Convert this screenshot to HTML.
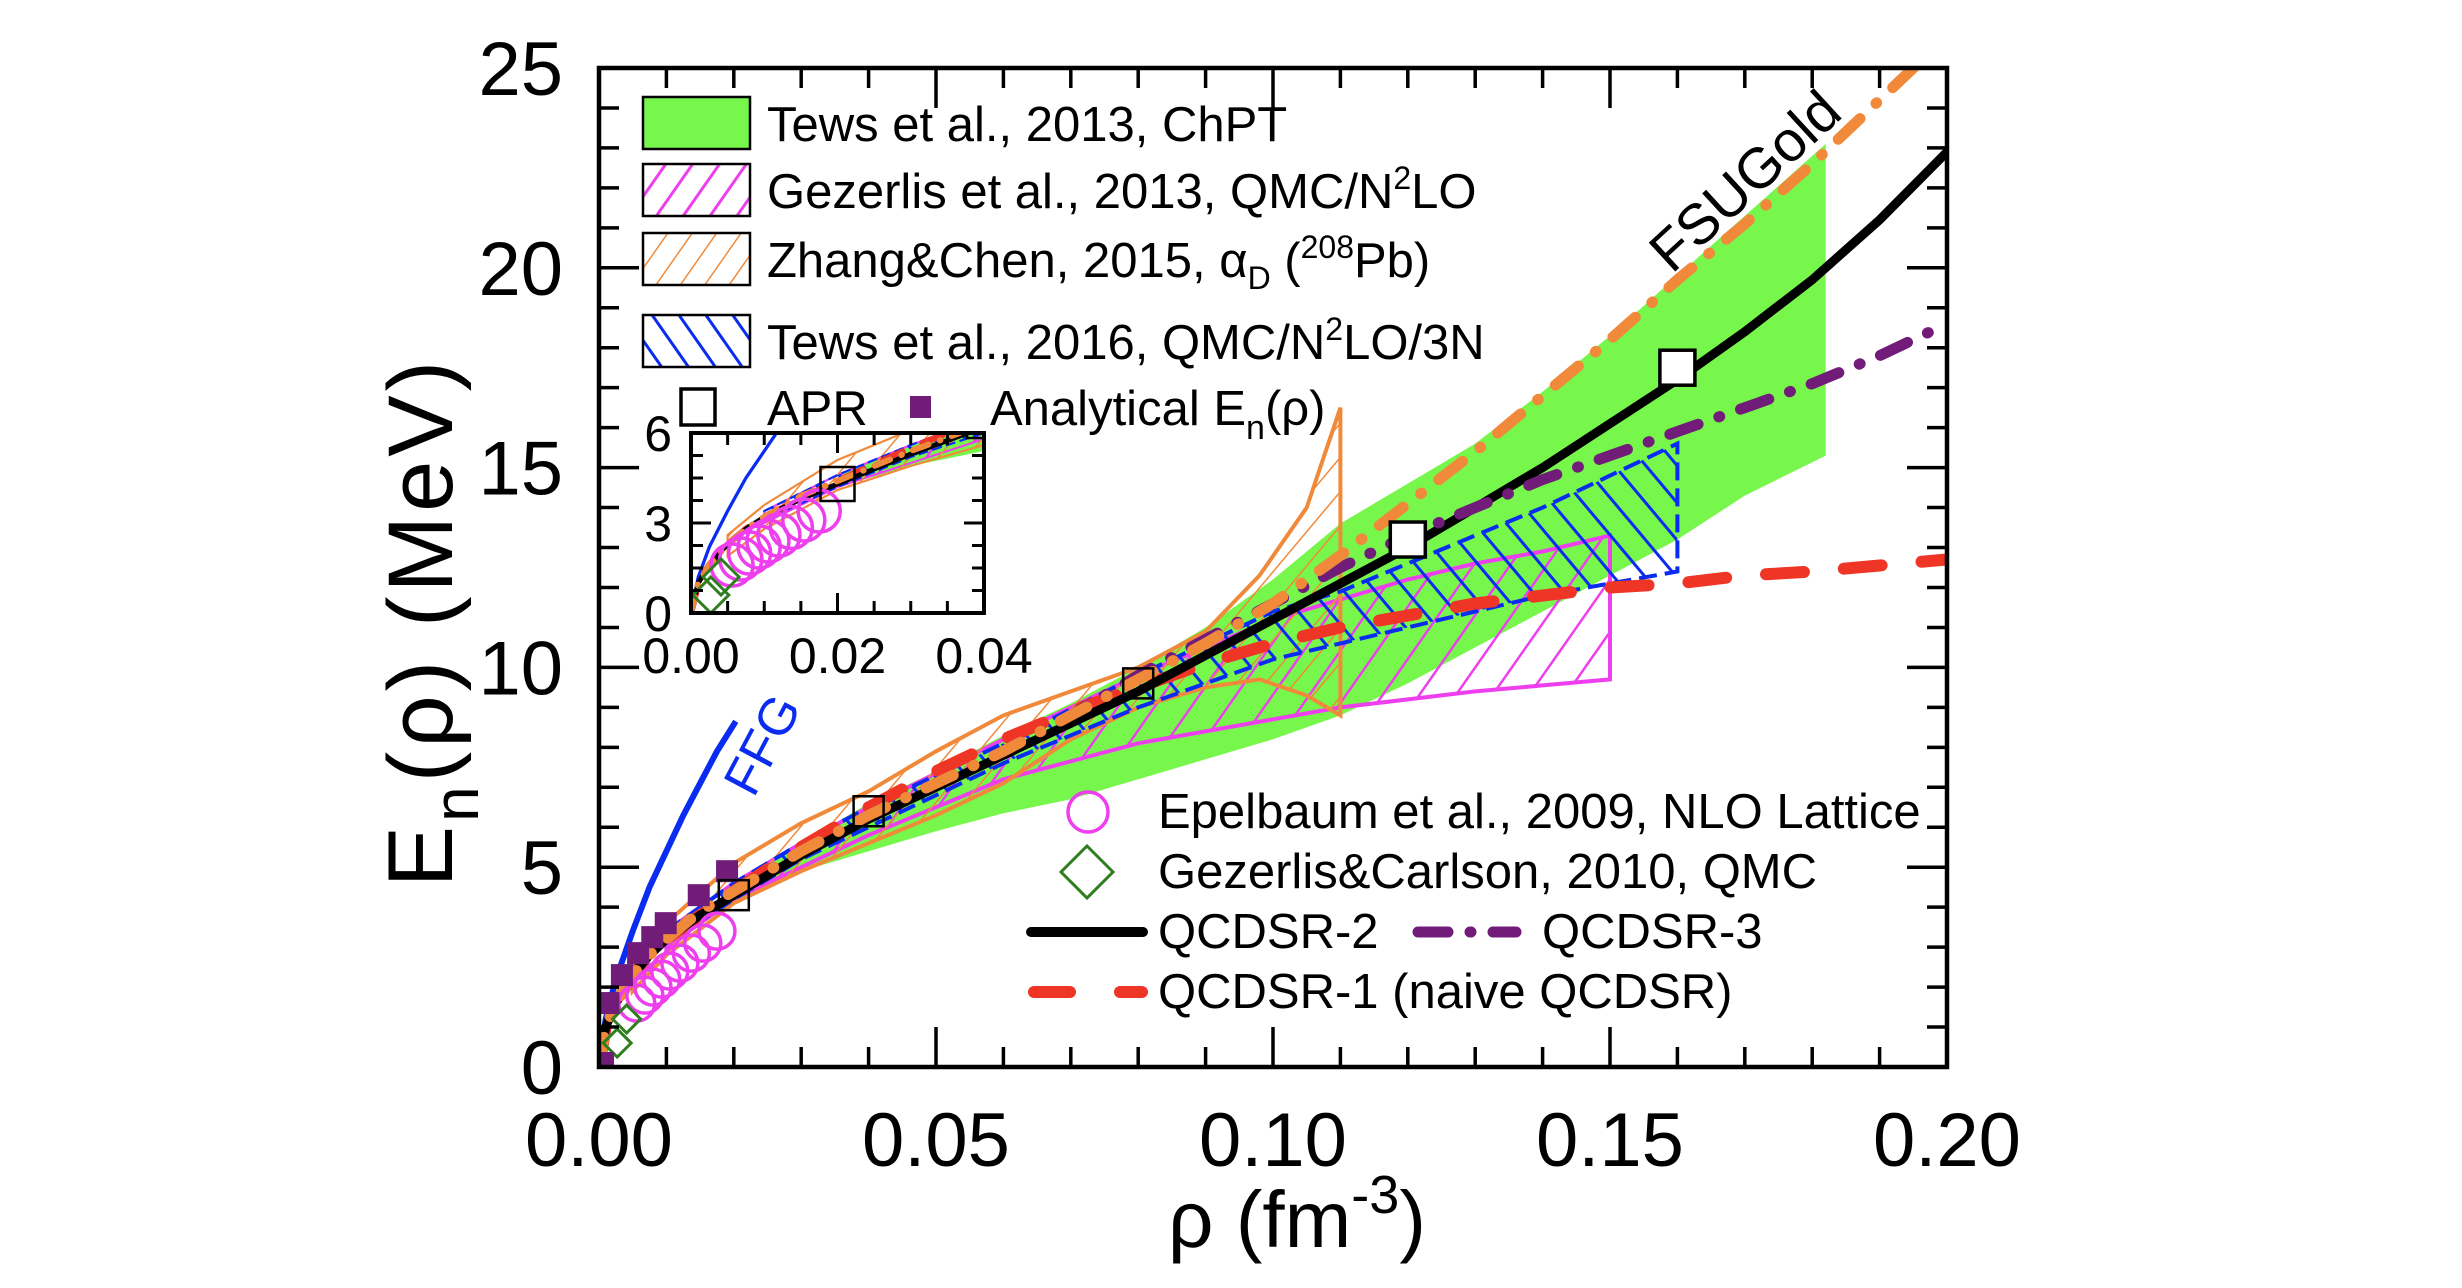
<!DOCTYPE html>
<html><head><meta charset="utf-8">
<style>
html,body{margin:0;padding:0;background:#fff;}
svg{display:block;font-family:"Liberation Sans",Arial,sans-serif;}
</style></head>
<body>
<svg id="chart" xmlns="http://www.w3.org/2000/svg" width="2462" height="1288" viewBox="0 0 2462 1288">
<defs>
  <clipPath id="clipMain"><rect x="599" y="68" width="1348" height="999"/></clipPath>
  <clipPath id="clipInset"><rect x="691" y="433" width="293" height="180"/></clipPath>
  <pattern id="hatchMag" patternUnits="userSpaceOnUse" width="30" height="30" patternTransform="rotate(35)">
    <line x1="0" y1="0" x2="0" y2="30" stroke="#EE3FEE" stroke-width="5"/>
  </pattern>
  <pattern id="hatchOr" patternUnits="userSpaceOnUse" width="22" height="22" patternTransform="rotate(40)">
    <line x1="0" y1="0" x2="0" y2="22" stroke="#F08A3A" stroke-width="3"/>
  </pattern>
  <pattern id="hatchBlue" patternUnits="userSpaceOnUse" width="24" height="24" patternTransform="rotate(-40)">
    <line x1="0" y1="0" x2="0" y2="24" stroke="#0A2CF0" stroke-width="6"/>
  </pattern>
  <pattern id="hatchMagL" patternUnits="userSpaceOnUse" width="22" height="22" patternTransform="rotate(35)">
    <line x1="0" y1="0" x2="0" y2="22" stroke="#EE3FEE" stroke-width="6"/>
  </pattern>
  <pattern id="hatchOrL" patternUnits="userSpaceOnUse" width="20" height="20" patternTransform="rotate(35)">
    <line x1="0" y1="0" x2="0" y2="20" stroke="#F08A3A" stroke-width="3"/>
  </pattern>
  <pattern id="hatchBlueL" patternUnits="userSpaceOnUse" width="22" height="22" patternTransform="rotate(-35)">
    <line x1="0" y1="0" x2="0" y2="22" stroke="#0A2CF0" stroke-width="6"/>
  </pattern>
</defs>
<g id="bands" clip-path="url(#clipMain)"></g>
<g id="lines" clip-path="url(#clipMain)"></g>
<g id="markers" clip-path="url(#clipMain)"></g>
<g id="inset"></g>
<g id="axes"></g>
<g id="legend"></g>
<text x="1746" y="200" font-size="57" text-anchor="middle" transform="rotate(-42.6 1746 182)">FSUGold</text>
<text x="763" y="762" font-size="52" fill="#0A2CF0" text-anchor="middle" transform="rotate(-62 763 745)">FFG</text>
<text x="0" y="0" font-size="92" letter-spacing="4" text-anchor="middle" transform="translate(452 622) rotate(-90)">E<tspan font-size="64" dy="26">n</tspan><tspan dy="-26">(ρ) (MeV)</tspan></text>
<text x="1297" y="1247" font-size="80" text-anchor="middle">ρ (fm<tspan font-size="54" dy="-34">-3</tspan><tspan dy="34">)</tspan></text>
</svg>
<script>
// ---------- data ----------
const rho = [0,0.001,0.0025,0.005,0.0075,0.01,0.015,0.02,0.03,0.04,0.05,0.06,0.07,0.08,0.09,0.1,0.11,0.12,0.13,0.14,0.15,0.16,0.17,0.18,0.19,0.2];
const qcdsr2 = [0,1.0,1.6,2.3,2.8,3.2,3.8,4.3,5.3,6.2,7.0,7.8,8.6,9.4,10.3,11.2,12.1,13.0,14.0,15.0,16.1,17.2,18.4,19.7,21.2,22.9];
const fsugold = [0,1.0,1.6,2.3,2.8,3.2,3.9,4.4,5.4,6.3,7.1,7.9,8.8,9.7,10.6,11.6,12.8,14.1,15.4,16.8,18.2,19.7,21.1,22.6,24.2,25.8];
const qcdsr3 = [0,1.0,1.6,2.3,2.8,3.2,3.9,4.4,5.4,6.3,7.1,7.9,8.8,9.8,10.7,11.6,12.5,13.3,14.0,14.7,15.3,15.9,16.5,17.1,17.8,18.6];
const qcdsr1 = [0,1.0,1.6,2.3,2.8,3.2,3.8,4.4,5.5,6.5,7.4,8.2,8.9,9.5,10.1,10.6,11.0,11.3,11.6,11.8,12.0,12.1,12.3,12.4,12.55,12.7];
const ffgRho = [0,0.001,0.0025,0.005,0.0075,0.01,0.0125,0.015,0.0175,0.0203];
const ffgE = [0,1.2,2.2,3.4,4.5,5.4,6.3,7.1,7.9,8.65];
const chptRho = [0.02,0.03,0.04,0.05,0.06,0.07,0.08,0.09,0.1,0.11,0.12,0.13,0.14,0.15,0.16,0.17,0.182];
const chptUp = [4.6,5.6,6.6,7.4,8.3,9.1,10.0,11.0,12.2,13.6,14.6,15.6,16.9,18.3,19.8,21.3,23.1];
const chptLo = [4.2,4.9,5.4,5.9,6.35,6.7,7.2,7.7,8.2,8.8,9.6,10.5,11.4,12.3,13.2,14.3,15.3];
const gezRho = [0.01,0.02,0.03,0.04,0.06,0.08,0.1,0.11,0.12,0.13,0.14,0.15];
const gezUp = [3.4,4.6,5.6,6.5,8.2,9.8,11.2,11.7,12.2,12.6,12.9,13.3];
const gezLo = [3.0,4.2,5.0,5.8,7.2,8.1,8.7,9.0,9.2,9.4,9.55,9.7];
const zcRho = [0.005,0.01,0.02,0.03,0.04,0.05,0.06,0.07,0.08,0.09,0.098,0.105,0.11];
const zcUp = [2.6,3.6,5.1,6.1,6.9,7.9,8.8,9.4,10.0,10.9,12.3,14.0,16.5];
const zcLo = [1.9,2.8,4.1,4.9,5.6,6.3,7.1,8.2,9.0,9.5,9.7,9.3,8.8];
const tewsRho = [0.01,0.02,0.03,0.04,0.06,0.08,0.1,0.11,0.12,0.13,0.14,0.15,0.16];
const tewsUp = [3.4,4.6,5.6,6.5,8.1,9.8,11.4,11.9,12.6,13.3,14.0,14.8,15.6];
const tewsLo = [3.1,4.2,5.2,6.0,7.6,9.0,10.2,10.6,11.0,11.4,11.8,12.1,12.4];
const aprRho = [0.02,0.04,0.08,0.12,0.16];
const aprE = [4.3,6.4,9.6,13.2,17.5];
const anaRho = [0.0006,0.0014,0.0034,0.0058,0.0079,0.0099,0.0148,0.019];
const anaE = [0.1,1.6,2.3,2.85,3.25,3.6,4.3,4.9];
const epelRho = [0.0056,0.0068,0.008,0.0093,0.0105,0.012,0.0137,0.0154,0.0175];
const epelE = [1.6,1.8,2.0,2.2,2.4,2.6,2.85,3.1,3.4];
const gcRho = [0.0027,0.0041];
const gcE = [0.6,1.2];
const xTickLabels = ["0.00","0.05","0.10","0.15","0.20"];
const yTickLabels = ["0","5","10","15","20","25"];
const insetXLabels = ["0.00","0.02","0.04"];
const insetYLabels = ["0","3","6"];

// ---------- axes functions ----------
const M = {x0:599,x1:1947,y0:1067,y1:68,xmax:0.2,ymax:25};
const I = {x0:691,x1:984,y0:613,y1:433,xmax:0.04,ymax:6};
function sx(ax,v){return ax.x0+(ax.x1-ax.x0)*v/ax.xmax;}
function sy(ax,v){return ax.y0-(ax.y0-ax.y1)*v/ax.ymax;}
const NS="http://www.w3.org/2000/svg";
function mk(tag,attrs,parent){const e=document.createElementNS(NS,tag);for(const k in attrs)e.setAttribute(k,attrs[k]);parent.appendChild(e);return e;}
function pathD(ax,xs,ys){return xs.map((x,i)=>(i?"L":"M")+sx(ax,x).toFixed(1)+" "+sy(ax,ys[i]).toFixed(1)).join(" ");}
function bandD(ax,xs,up,lo){let d=pathD(ax,xs,up);for(let i=xs.length-1;i>=0;i--)d+=" L"+sx(ax,xs[i]).toFixed(1)+" "+sy(ax,lo[i]).toFixed(1);return d+" Z";}

const GREEN="#77F74B",MAG="#EE3FEE",OR="#F08A3A",BLUE="#0A2CF0",PUR="#721C7A",RED="#EE3526";

function drawAll(ax,gB,gL,gM,scale,inset){
  let e=mk("path",{d:bandD(ax,chptRho,chptUp,chptLo),fill:GREEN,stroke:"none"},gB);
  
  
  e=mk("path",{d:bandD(ax,gezRho,gezUp,gezLo),fill:"url(#hatchMag)",stroke:MAG,"stroke-width":4*scale},gB);
  
  
  e=mk("path",{d:bandD(ax,zcRho,zcUp,zcLo),fill:"url(#hatchOr)",stroke:OR,"stroke-width":4*scale},gB);
  
  
  e=mk("path",{d:bandD(ax,tewsRho,tewsUp,tewsLo),fill:"url(#hatchBlue)",stroke:BLUE,"stroke-width":4*scale,"stroke-dasharray":(18*scale)+" "+(8*scale)},gB);
  
  
  e=mk("path",{d:pathD(ax,ffgRho,ffgE),fill:"none",stroke:BLUE,"stroke-width":6*scale},gL);
  
  
  e=mk("path",{d:pathD(ax,rho,qcdsr1),fill:"none",stroke:RED,"stroke-width":12*scale,"stroke-linecap":"round","stroke-dasharray":(38*scale)+" "+(40*scale)},gL);
  
  
  e=mk("path",{d:pathD(ax,rho,qcdsr2),fill:"none",stroke:"#000","stroke-width":9*scale},gL);
  
  
  e=mk("path",{d:pathD(ax,rho,qcdsr3),fill:"none",stroke:PUR,"stroke-width":11*scale,"stroke-linecap":"round","stroke-dasharray":(30*scale)+" "+(22*scale)+" "+(1*scale)+" "+(22*scale)},gL);
  
  
  e=mk("path",{d:pathD(ax,rho,fsugold),fill:"none",stroke:OR,"stroke-width":11*scale,"stroke-linecap":"round","stroke-dasharray":(30*scale)+" "+(22*scale)+" "+(1*scale)+" "+(22*scale)},gL);
  
  
  const r=inset?21:18;
  epelRho.forEach((x,i)=>{const c=mk("circle",{cx:sx(ax,x),cy:sy(ax,epelE[i]),r:r,fill:"none",stroke:MAG,"stroke-width":3.5},gM);
    
    });
  gcRho.forEach((x,i)=>{const cx=sx(ax,x),cy=sy(ax,gcE[i]),h=inset?18:14;
    const p=mk("polygon",{points:`${cx},${cy-h} ${cx+h},${cy} ${cx},${cy+h} ${cx-h},${cy}`,fill:"none",stroke:"#2E7D1E","stroke-width":3},gM);
    
    });
  if(!inset){
    anaRho.forEach((x,i)=>{const s=22;const q=mk("rect",{x:sx(ax,x)-s/2,y:sy(ax,anaE[i])-s/2,width:s,height:s,fill:PUR},gM);
      
      });
  }
  aprRho.forEach((x,i)=>{const s=inset?34:(aprE[i]>12?35:30);const filled=!inset&&aprE[i]>12;
    const q=mk("rect",{x:sx(ax,x)-s/2,y:sy(ax,aprE[i])-s/2,width:s,height:s,fill:filled?"#fff":"none",stroke:"#000","stroke-width":filled?3.5:2.5},gM);
    
    });
}

const gB=document.getElementById("bands"),gL=document.getElementById("lines"),gM=document.getElementById("markers");
drawAll(M,gB,gL,gM,1,false);

const gI=document.getElementById("inset");
const ir=mk("rect",{x:I.x0,y:I.y1,width:I.x1-I.x0,height:I.y0-I.y1,fill:"#fff"},gI);


const gIc=mk("g",{"clip-path":"url(#clipInset)"},gI);


const iB=mk("g",{},gIc),iL=mk("g",{},gIc),iM=mk("g",{},gIc);
drawAll(I,iB,iL,iM,0.55,true);
const ibox=mk("rect",{x:I.x0,y:I.y1,width:I.x1-I.x0,height:I.y0-I.y1,fill:"none",stroke:"#000","stroke-width":4},gI);


for(let k=0;k<=8;k++){const x=sx(I,k*0.005),L=(k%4==0)?20:12;
  mk("line",{x1:x,y1:I.y0,x2:x,y2:I.y0-L,stroke:"#000","stroke-width":3},gI);
  mk("line",{x1:x,y1:I.y1,x2:x,y2:I.y1+L,stroke:"#000","stroke-width":3},gI);}
for(let k=0;k<=8;k++){const y=sy(I,k*0.75),L=(k%4==0)?20:12;
  mk("line",{x1:I.x0,y1:y,x2:I.x0+L,y2:y,stroke:"#000","stroke-width":3},gI);
  mk("line",{x1:I.x1,y1:y,x2:I.x1-L,y2:y,stroke:"#000","stroke-width":3},gI);}
insetXLabels.forEach((t,i)=>{const e=mk("text",{x:sx(I,i*0.02),y:673,"font-size":50,"text-anchor":"middle"},gI);e.textContent=t;
  
  });
insetYLabels.forEach((t,i)=>{const e=mk("text",{x:672,y:sy(I,i*3)+18,"font-size":50,"text-anchor":"end"},gI);e.textContent=t;
  
  });

const gA=document.getElementById("axes");
const frame=mk("rect",{x:M.x0,y:M.y1,width:M.x1-M.x0,height:M.y0-M.y1,fill:"none",stroke:"#000","stroke-width":4.5},gA);


for(let k=0;k<=20;k++){const x=sx(M,k*0.01),L=(k%5==0)?40:20;
  mk("line",{x1:x,y1:M.y0,x2:x,y2:M.y0-L,stroke:"#000","stroke-width":3.5},gA);
  mk("line",{x1:x,y1:M.y1,x2:x,y2:M.y1+L,stroke:"#000","stroke-width":3.5},gA);}
for(let k=0;k<=25;k++){const y=sy(M,k),L=(k%5==0)?40:20;
  mk("line",{x1:M.x0,y1:y,x2:M.x0+L,y2:y,stroke:"#000","stroke-width":3.5},gA);
  mk("line",{x1:M.x1,y1:y,x2:M.x1-L,y2:y,stroke:"#000","stroke-width":3.5},gA);}
xTickLabels.forEach((t,i)=>{const e=mk("text",{x:sx(M,i*0.05),y:1166,"font-size":76,"text-anchor":"middle"},gA);e.textContent=t;
  
  });
yTickLabels.forEach((t,i)=>{const e=mk("text",{x:563,y:sy(M,i*5)+27,"font-size":76,"text-anchor":"end"},gA);e.textContent=t;
  
  });

const gG=document.getElementById("legend");
function ltext(x,y,html,size,name){const e=mk("text",{x:x,y:y,"font-size":size||49},gG);e.innerHTML=html;
  
  return e;}
const boxes=[["#77F74B",97,"legend-swatch-chpt"],["url(#hatchMagL)",164,"legend-swatch-gezerlis"],["url(#hatchOrL)",233,"legend-swatch-zhang-chen"],["url(#hatchBlueL)",315,"legend-swatch-tews-2016"]];
boxes.forEach(b=>{const r=mk("rect",{x:643,y:b[1],width:107,height:52,fill:b[0],stroke:"#000","stroke-width":2.5},gG);
  
  });
ltext(767,141,"Tews et al., 2013, ChPT",49,"legend-label-chpt");
ltext(767,208,'Gezerlis et al., 2013, QMC/N<tspan font-size="32" dy="-19">2</tspan><tspan dy="19">LO</tspan>',49,"legend-label-gezerlis");
ltext(767,277,'Zhang&amp;Chen, 2015, α<tspan font-size="32" dy="12">D</tspan><tspan dy="-12"> (</tspan><tspan font-size="32" dy="-19">208</tspan><tspan dy="19">Pb)</tspan>',49,"legend-label-zhang-chen");
ltext(767,359,'Tews et al., 2016, QMC/N<tspan font-size="32" dy="-19">2</tspan><tspan dy="19">LO/3N</tspan>',49,"legend-label-tews-2016");
let r=mk("rect",{x:681,y:389,width:34,height:36,fill:"#fff",stroke:"#000","stroke-width":3.5},gG);


ltext(767,425,"APR",49,"legend-label-apr");
r=mk("rect",{x:910,y:396,width:21,height:22,fill:PUR},gG);


ltext(990,425,'Analytical E<tspan font-size="34" dy="14">n</tspan><tspan dy="-14">(ρ)</tspan>',49,"legend-label-analytical");
r=mk("circle",{cx:1088,cy:812,r:20,fill:"none",stroke:MAG,"stroke-width":3.5},gG);


ltext(1158,828,"Epelbaum et al., 2009, NLO Lattice",49,"legend-label-epelbaum");
r=mk("polygon",{points:"1087,846 1113,872 1087,898 1061,872",fill:"none",stroke:"#2E7D1E","stroke-width":3},gG);


ltext(1158,888,"Gezerlis&amp;Carlson, 2010, QMC",49,"legend-label-gezerlis-carlson");
r=mk("line",{x1:1031,y1:932,x2:1143,y2:932,stroke:"#000","stroke-width":10,"stroke-linecap":"round"},gG);


ltext(1158,948,"QCDSR-2",49,"legend-label-qcdsr-2");
r=mk("line",{x1:1418,y1:932,x2:1516,y2:932,stroke:PUR,"stroke-width":11,"stroke-linecap":"round","stroke-dasharray":"30 22 1 22"},gG);


ltext(1542,948,"QCDSR-3",49,"legend-label-qcdsr-3");
r=mk("line",{x1:1034,y1:992,x2:1142,y2:992,stroke:RED,"stroke-width":12,"stroke-linecap":"round","stroke-dasharray":"36 50"},gG);


ltext(1158,1008,"QCDSR-1 (naive QCDSR)",49,"legend-label-qcdsr-1");
</script>
</body></html>
